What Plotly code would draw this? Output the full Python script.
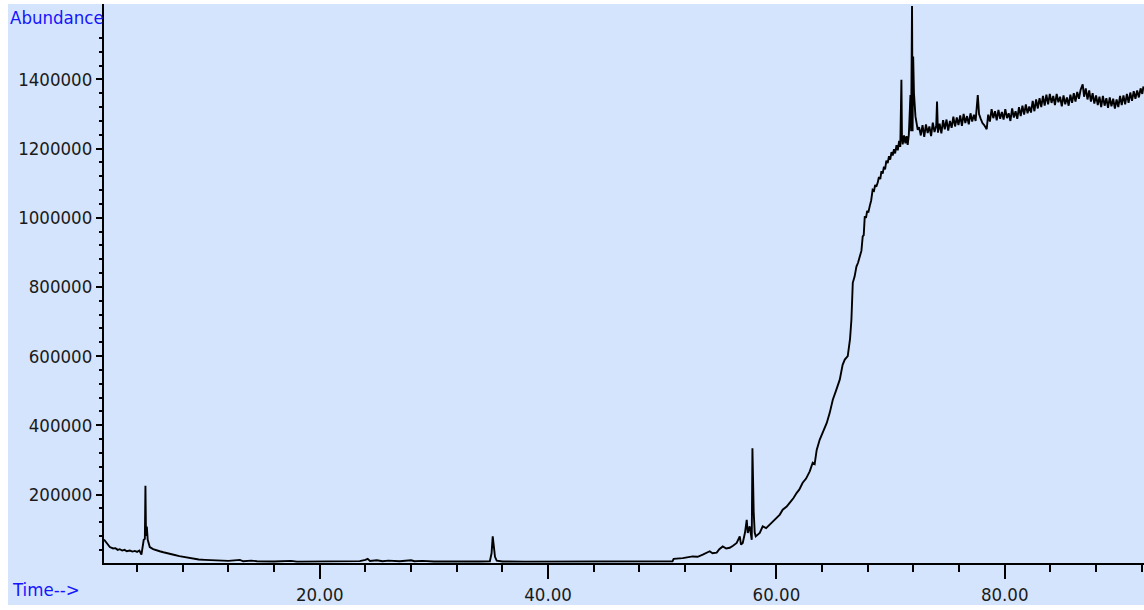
import plotly.graph_objects as go

# ---- data (time in min, abundance) ----
# early part and baseline
early_time = [
    1.10, 1.30, 1.61, 1.90, 2.10, 2.30, 2.48, 2.70, 2.90, 3.10, 3.36, 3.60, 3.80, 4.00, 4.20,
    4.38, 4.50, 4.58, 4.68, 4.73, 4.78, 4.85, 4.93, 5.11, 5.40, 5.70, 5.98, 6.30, 6.60, 6.90,
    7.30, 7.70, 8.00, 8.30, 8.61, 9.00, 9.40, 9.93, 10.50, 11.24, 12.00, 13.00, 13.30, 14.00,
    14.50, 16.00, 17.50, 18.00, 20.00, 22.00, 23.50, 24.00, 24.20, 24.40, 25.00, 25.50, 26.00,
    27.00, 28.00, 28.30, 29.00, 30.00, 31.00, 32.00, 33.00, 34.00, 34.90, 35.05, 35.15, 35.25,
    35.35, 35.50, 36.00, 38.00, 40.00, 42.00, 44.00, 46.00, 48.00, 50.00, 50.90,
]
early_abund = [
    70000, 62000, 48000, 44000, 45000, 40000, 42000, 38000, 40000, 36000, 38000, 35000, 37000, 34000, 38000,
    26000, 50000, 69000, 72000, 225000, 80000, 107000, 69000, 48000, 42000, 40000, 36000, 33000, 30000, 28000,
    25000, 22000, 20000, 18000, 16000, 14000, 12000, 11000, 10000, 8500, 8000, 11000, 7000, 9000,
    7000, 6500, 8000, 6000, 6500, 7000, 7500, 11000, 14000, 8000, 10000, 7000, 9000,
    7000, 10000, 7000, 8000, 6500, 6000, 7000, 6000, 6500, 7000, 30000, 79000, 46000,
    20000, 9000, 6500, 6000, 6000, 6500, 6000, 6000, 6500, 6500, 7000,
]

# rising part with the peaks near 58 and 71-72 min
rise_time = [
    51.00, 51.80, 52.67, 53.10, 53.55, 54.16, 54.40, 54.77, 55.00, 55.30, 55.60, 55.91, 56.20,
    56.52, 56.79, 56.90, 57.05, 57.25, 57.40, 57.49, 57.66, 57.84, 57.90, 57.96, 58.01, 58.10,
    58.19, 58.54, 58.80, 59.10, 59.41, 59.70, 60.03, 60.30, 60.55, 60.90, 61.16, 61.50, 61.78,
    62.00, 62.30, 62.60, 62.92, 63.18, 63.35, 63.53, 63.79, 64.06, 64.41, 64.67, 64.94, 65.20,
    65.55, 65.80, 65.99, 66.25, 66.45, 66.57, 66.62, 66.69, 66.85, 67.01, 67.15, 67.30, 67.45,
    67.56, 67.65, 67.74, 67.85, 67.95, 68.05, 68.17, 68.30, 68.43, 68.55, 68.65, 68.75, 68.87,
    68.98, 69.10, 69.20, 69.31, 69.42, 69.52, 69.63, 69.75, 69.86, 69.97, 70.08, 70.19, 70.30,
    70.40, 70.52, 70.63, 70.75, 70.85, 70.95, 71.00, 71.06, 71.18, 71.30, 71.40, 71.50, 71.60,
    71.74, 71.80, 71.88, 71.93, 71.98, 72.05, 72.18, 72.38,
]
rise_abund = [
    14000, 16000, 21000, 20000, 26000, 36000, 30000, 32000, 42000, 50000, 44000, 46000, 52000,
    60000, 79000, 55000, 60000, 90000, 127000, 89000, 108000, 69000, 334000, 209000, 150000, 90000,
    79000, 89000, 108000, 103000, 113000, 122000, 133000, 142000, 156000, 165000, 176000, 190000, 205000,
    214000, 234000, 246000, 267000, 292000, 288000, 329000, 358000, 379000, 407000, 436000, 474000, 498000,
    532000, 575000, 590000, 600000, 650000, 705000, 780000, 812000, 830000, 859000, 870000, 888000, 905000,
    946000, 950000, 1004000, 1000000, 1020000, 1015000, 1033000, 1050000, 1081000, 1078000, 1095000, 1090000, 1101000,
    1118000, 1112000, 1135000, 1128000, 1148000, 1140000, 1165000, 1158000, 1178000, 1168000, 1190000, 1180000, 1198000,
    1186000, 1210000, 1195000, 1222000, 1205000, 1399000, 1230000, 1212000, 1238000, 1215000, 1236000, 1211000, 1240000,
    1355000, 1250000, 1612000, 1250000, 1466000, 1360000, 1293000, 1254000,
]

# noisy plateau
plateau_time = [
    72.50, 72.65, 72.80, 72.95, 73.10, 73.25, 73.40, 73.55, 73.70, 73.85, 74.00, 74.07, 74.15,
    74.30, 74.45, 74.60, 74.75, 74.90, 75.05, 75.20, 75.35, 75.50, 75.65, 75.80, 75.95, 76.10,
    76.25, 76.40, 76.55, 76.70, 76.85, 77.00, 77.15, 77.30, 77.45, 77.64, 77.75, 77.90, 78.05,
    78.20, 78.42, 78.55, 78.70, 78.85, 79.00, 79.15, 79.30, 79.45, 79.60, 79.75, 79.90, 80.05,
    80.20, 80.35, 80.50, 80.65, 80.80, 80.95, 81.10, 81.25, 81.40, 81.55, 81.70, 81.85, 82.00,
    82.15, 82.30, 82.45, 82.60, 82.75, 82.90, 83.05, 83.20, 83.35, 83.50, 83.65, 83.80, 83.95,
    84.10, 84.25, 84.40, 84.55, 84.70, 84.85, 85.00, 85.15, 85.30, 85.45, 85.60, 85.75, 85.90,
    86.05, 86.20, 86.35, 86.50, 86.65, 86.83, 86.95, 87.10, 87.25, 87.40, 87.55, 87.70, 87.85,
    88.00, 88.15, 88.30, 88.45, 88.60, 88.75, 88.90, 89.05, 89.20, 89.35, 89.50, 89.65, 89.80,
    89.95, 90.10, 90.25, 90.40, 90.55, 90.70, 90.85, 91.00, 91.15, 91.30, 91.45, 91.60, 91.75,
    91.90, 92.05, 92.15,
]
plateau_abund = [
    1262000, 1238000, 1268000, 1234000, 1270000, 1245000, 1264000, 1236000, 1275000, 1248000, 1266000, 1336000, 1246000,
    1272000, 1244000, 1282000, 1256000, 1284000, 1252000, 1280000, 1260000, 1292000, 1264000, 1290000, 1268000, 1296000,
    1266000, 1300000, 1274000, 1294000, 1270000, 1302000, 1278000, 1298000, 1280000, 1355000, 1300000, 1286000, 1274000,
    1268000, 1256000, 1298000, 1278000, 1314000, 1288000, 1308000, 1282000, 1312000, 1286000, 1306000, 1284000, 1314000,
    1288000, 1302000, 1280000, 1316000, 1290000, 1308000, 1286000, 1320000, 1294000, 1324000, 1298000, 1328000, 1302000,
    1322000, 1304000, 1338000, 1308000, 1342000, 1316000, 1346000, 1320000, 1352000, 1324000, 1356000, 1328000, 1358000,
    1332000, 1352000, 1326000, 1358000, 1334000, 1350000, 1322000, 1354000, 1328000, 1348000, 1324000, 1356000, 1332000,
    1360000, 1336000, 1364000, 1344000, 1370000, 1386000, 1350000, 1374000, 1342000, 1368000, 1336000, 1360000, 1330000,
    1354000, 1326000, 1350000, 1320000, 1352000, 1324000, 1346000, 1318000, 1348000, 1322000, 1344000, 1316000, 1342000,
    1320000, 1352000, 1326000, 1354000, 1328000, 1358000, 1332000, 1362000, 1338000, 1366000, 1344000, 1368000, 1348000,
    1374000, 1358000, 1380000,
]

time_min = early_time + rise_time + plateau_time
abundance = early_abund + rise_abund + plateau_abund

y_tick_values = [200000, 400000, 600000, 800000, 1000000, 1200000, 1400000]
y_tick_labels = ["200000", "400000", "600000", "800000", "1000000", "1200000", "1400000"]
y_minor_values = [v for v in range(40000, 1560000, 40000) if v % 200000 != 0]
x_tick_values = [20, 40, 60, 80]
x_tick_labels = ["20.00", "40.00", "60.00", "80.00"]

FONT = "DejaVu Sans Condensed, Liberation Sans, sans-serif"
FSIZE = 18.5
BG = "#d4e4fc"
BLUE = "#1414ff"

fig = go.Figure()
fig.add_trace(go.Scatter(x=time_min, y=abundance, mode="lines",
                         line=dict(color="black", width=1.9), hoverinfo="skip"))

fig.update_layout(
    width=1144, height=610, autosize=False,
    margin=dict(l=104, r=0, t=4, b=47),
    paper_bgcolor=BG, plot_bgcolor=BG,
    showlegend=False,
    xaxis=dict(
        range=[1.1, 92.2], showline=True, linecolor="black", linewidth=2,
        showgrid=False, zeroline=False,
        tickmode="array", tickvals=x_tick_values, ticktext=x_tick_labels,
        ticks="outside", ticklen=14, tickwidth=1.5, tickcolor="black",
        minor=dict(tickmode="linear", tick0=0, dtick=4, ticks="outside", ticklen=7,
                   tickwidth=1.5, tickcolor="black", showgrid=False),
        tickfont=dict(family=FONT, size=FSIZE, color="#1a1a1a"),
        fixedrange=True,
    ),
    yaxis=dict(
        range=[2000, 1618000], showline=True, linecolor="black", linewidth=2,
        showgrid=False, zeroline=False,
        tickmode="array", tickvals=y_tick_values, ticktext=y_tick_labels,
        ticks="outside", ticklen=6, tickwidth=1.5, tickcolor="black",
        minor=dict(tickmode="array", tickvals=y_minor_values, ticks="outside", ticklen=3,
                   tickwidth=1.5, tickcolor="black", showgrid=False),
        tickfont=dict(family=FONT, size=FSIZE, color="#1a1a1a"),
        fixedrange=True,
    ),
    shapes=[
        dict(type="rect", xref="paper", yref="paper", x0=-0.2, x1=1.1, y0=-0.0751, y1=-0.2,
             fillcolor="white", line=dict(width=0), layer="below"),
        dict(type="rect", xref="paper", yref="paper", x0=-0.2, x1=-0.0923, y0=-0.2, y1=1.2,
             fillcolor="white", line=dict(width=0), layer="below"),
        dict(type="rect", xref="paper", yref="paper", x0=-0.2, x1=1.1, y0=1.0, y1=1.2,
             fillcolor="white", line=dict(width=0), layer="below"),
    ],
    annotations=[
        dict(text="Abundance", xref="paper", yref="paper", x=-0.0923, y=0.975,
             xanchor="left", yanchor="middle", showarrow=False,
             font=dict(family=FONT, size=FSIZE, color=BLUE)),
        dict(text="Time-->", xref="paper", yref="paper", x=-0.0904, y=-0.0483,
             xanchor="left", yanchor="middle", showarrow=False,
             font=dict(family=FONT, size=FSIZE, color=BLUE)),
    ],
)

fig.write_html("out.html", config={"displayModeBar": False})
